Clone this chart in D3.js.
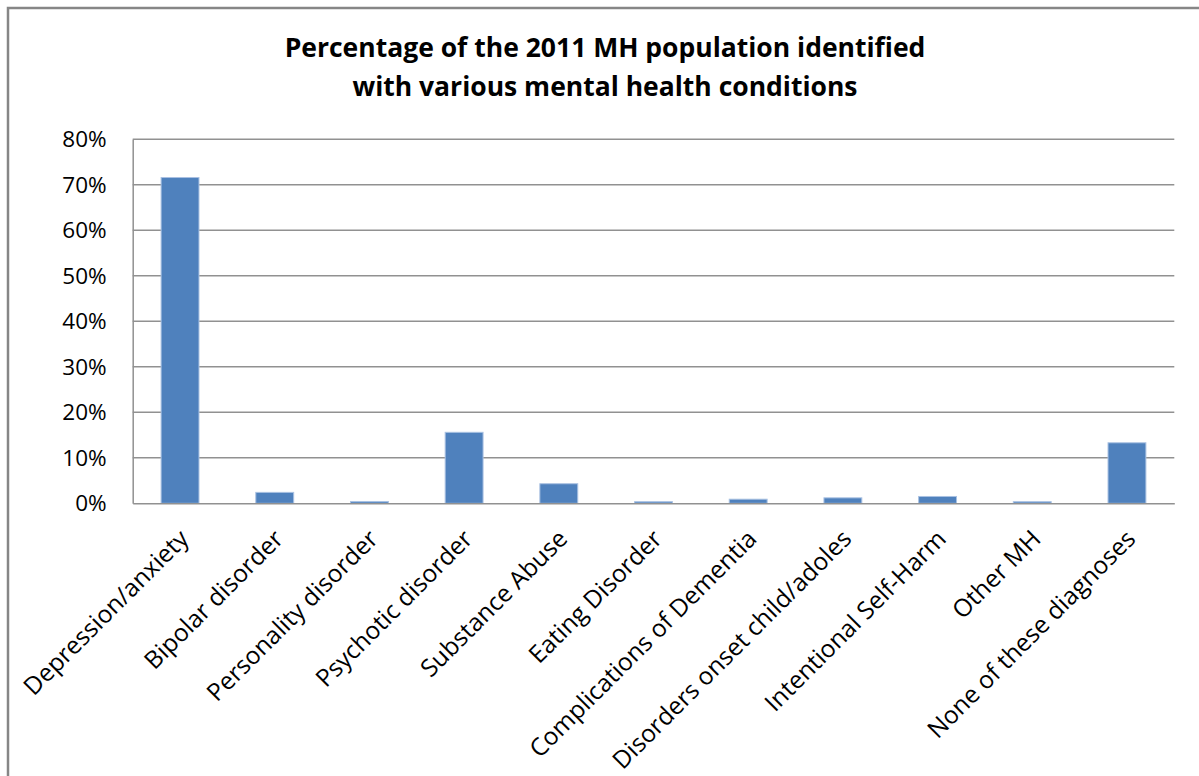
<!DOCTYPE html>
<html>
<head>
<meta charset="utf-8">
<script src="https://cdn.jsdelivr.net/npm/d3@7"></script>
<style>
  html, body { margin: 0; padding: 0; background: #ffffff; }
  svg { display: block; }
  text { font-family: "Open Sans", "Noto Sans", sans-serif; fill: #000; }
</style>
</head>
<body>
<svg id="chart" width="1199" height="776"></svg>
<script>
// Share of the 2011 MH population with each recorded condition
const categories = [
  "Depression/anxiety",
  "Bipolar disorder",
  "Personality disorder",
  "Psychotic disorder",
  "Substance Abuse",
  "Eating Disorder",
  "Complications of Dementia",
  "Disorders onset child/adoles",
  "Intentional Self-Harm",
  "Other MH",
  "None of these diagnoses"
];
const values = [0.716, 0.024, 0.004, 0.156, 0.043, 0.0035, 0.009, 0.012, 0.015, 0.0035, 0.133];
const yTicks = [0, 0.1, 0.2, 0.3, 0.4, 0.5, 0.6, 0.7, 0.8];
const titleLines = [
  "Percentage of the 2011 MH population identified",
  "with various mental health conditions"
];

const svg = d3.select("#chart");

// outer chart frame (only top and left edges fall inside the canvas)
svg.append("rect")
  .attr("x", 8).attr("y", 8)
  .attr("width", 1400).attr("height", 1000)
  .attr("fill", "none")
  .attr("stroke", "#868686")
  .attr("stroke-width", 2.5);

const plot = { left: 132.7, right: 1174.3, top: 139.3, bottom: 503.3 };

const x = d3.scaleBand()
  .domain(categories)
  .range([plot.left, plot.right])
  .paddingInner(0.6)
  .paddingOuter(0.3);

const y = d3.scaleLinear()
  .domain([0, 0.8])
  .range([plot.bottom, plot.top]);

// title
const title = svg.append("g");
titleLines.forEach((t, i) => {
  title.append("text")
    .attr("x", 605)
    .attr("y", 57 + i * 39)
    .attr("text-anchor", "middle")
    .attr("font-size", 26.5)
    .attr("font-weight", "bold")
    .text(t);
});

// horizontal gridlines
svg.append("g")
  .selectAll("line")
  .data(yTicks.filter(d => d > 0))
  .join("line")
  .attr("x1", plot.left).attr("x2", plot.right)
  .attr("y1", d => y(d)).attr("y2", d => y(d))
  .attr("stroke", "#919191")
  .attr("stroke-width", 1.5);

// y axis
const yAxis = svg.append("g")
  .attr("transform", `translate(${plot.left},0)`)
  .call(d3.axisLeft(y).tickValues(yTicks).tickFormat(d3.format(".0%")).tickSize(0).tickPadding(26));
yAxis.select(".domain").attr("stroke", "#919191").attr("stroke-width", 1.5);
yAxis.selectAll("text")
  .attr("font-size", 22.5)
  .attr("fill", "#000")
  .style("font-family", "\"Open Sans\", sans-serif");

// bars
svg.append("g")
  .selectAll("rect")
  .data(values)
  .join("rect")
  .attr("x", (d, i) => x(categories[i]))
  .attr("y", d => y(d))
  .attr("width", x.bandwidth())
  .attr("height", d => y(0) - y(d))
  .attr("fill", "#4f81bd")
  .attr("stroke", "#a9c1e2")
  .attr("stroke-width", 1);

// x axis
const xAxis = svg.append("g")
  .attr("transform", `translate(0,${plot.bottom})`)
  .call(d3.axisBottom(x).tickSize(0).tickFormat(""));
xAxis.select(".domain").attr("stroke", "#919191").attr("stroke-width", 1.5);

// rotated category labels
svg.append("g")
  .selectAll("text")
  .data(categories)
  .join("text")
  .attr("transform", d => `translate(${x(d) + x.bandwidth() / 2 + 4},${plot.bottom + 31}) rotate(-45)`)
  .attr("text-anchor", "end")
  .attr("dy", "0.35em")
  .attr("font-size", 24.5)
  .text(d => d);
</script>
</body>
</html>
